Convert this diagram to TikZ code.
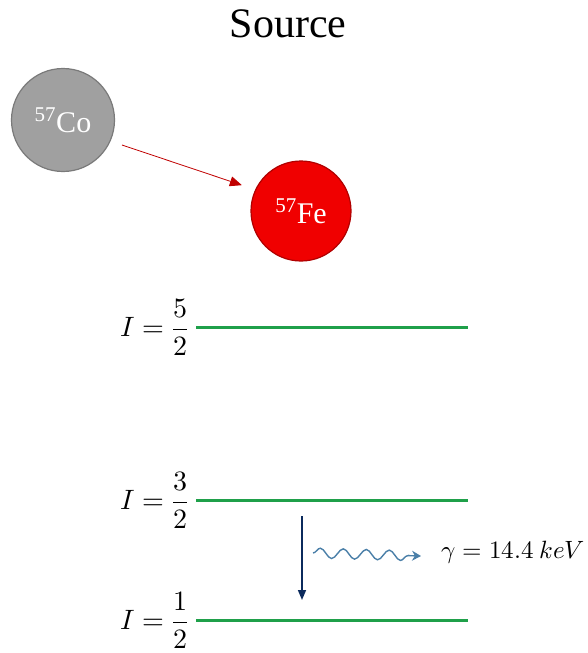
\documentclass[tikz,border=0pt]{standalone}
\usepackage{amsmath}
\usepackage{fontspec}
\usepackage{unicode-math}
\setmainfont{Liberation Serif}
\setmathfont{Latin Modern Math}
\usepackage{tikz}
\usetikzlibrary{arrows.meta, positioning, decorations.pathmorphing}

\definecolor{cogray}{HTML}{A0A0A0}
\definecolor{coedge}{HTML}{7A7A7A}
\definecolor{fered}{HTML}{F00000}
\definecolor{feedge}{HTML}{B00000}
\definecolor{lvlgreen}{HTML}{1FA04A}
\definecolor{navy}{HTML}{0B2A5C}
\definecolor{steel}{HTML}{4A7FA8}
\definecolor{decayred}{HTML}{C00000}

\begin{document}
\begin{tikzpicture}[
    x=1pt, y=-1pt,
    atom/.style={circle, draw, line width=1.2pt, text=white, font=\fontsize{30}{34}\selectfont, inner sep=0pt},
    level/.style={lvlgreen, line width=3pt},
    lvllabel/.style={anchor=east, font=\fontsize{28}{32}\selectfont},
    decay/.style={decayred, line width=0.8pt, -{Triangle[length=12pt, width=10pt]}, shorten >=14pt},
    drop/.style={navy, line width=1.6pt, -{Triangle[length=10pt, width=8pt]}},
    photon/.style={steel, line width=1.4pt, -{Stealth[length=9pt, width=10pt]},
        decorate, decoration={snake, segment length=23pt, amplitude=5pt, post length=9pt}}
]
\useasboundingbox (0,0) rectangle (588,653);

% Title
\node[font=\fontsize{42}{46}\selectfont] (title) at (288,24) {Source};

% Parent and daughter nuclei
\node[atom, fill=cogray, draw=coedge, minimum size=103pt] (co) at (63,120) {\textsuperscript{57}Co};
\node[atom, fill=fered, draw=feedge, minimum size=100pt] (fe) at (301,211) {\textsuperscript{57}Fe};
\coordinate (decstart) at (122,145);
\draw[decay] (decstart) -- (fe.155);

% Nuclear levels
\node[lvllabel] (l5) at (192,327) {$I=\dfrac{5}{2}$};
\node[lvllabel] (l3) at (192,500) {$I=\dfrac{3}{2}$};
\node[lvllabel] (l1) at (192,620) {$I=\dfrac{1}{2}$};
\foreach \lv/\y in {5/327, 3/500, 1/620} {
    \coordinate (a\lv) at (196,\y);
    \coordinate (b\lv) at (468,\y);
    \draw[level] (a\lv) -- (b\lv);
}

% Transition and gamma emission
\coordinate (droptop) at (302,516);
\coordinate (dropbot) at (302,600);
\draw[drop] (droptop) -- (dropbot);
\node[anchor=west, font=\fontsize{25}{28}\selectfont] (gamma) at (438,553) {$\gamma = 14.4\ keV$};
\coordinate (wavestart) at (313,553);
\coordinate (waveend) at (421,556);
\draw[photon] (wavestart) -- (waveend);

\end{tikzpicture}
\end{document}
